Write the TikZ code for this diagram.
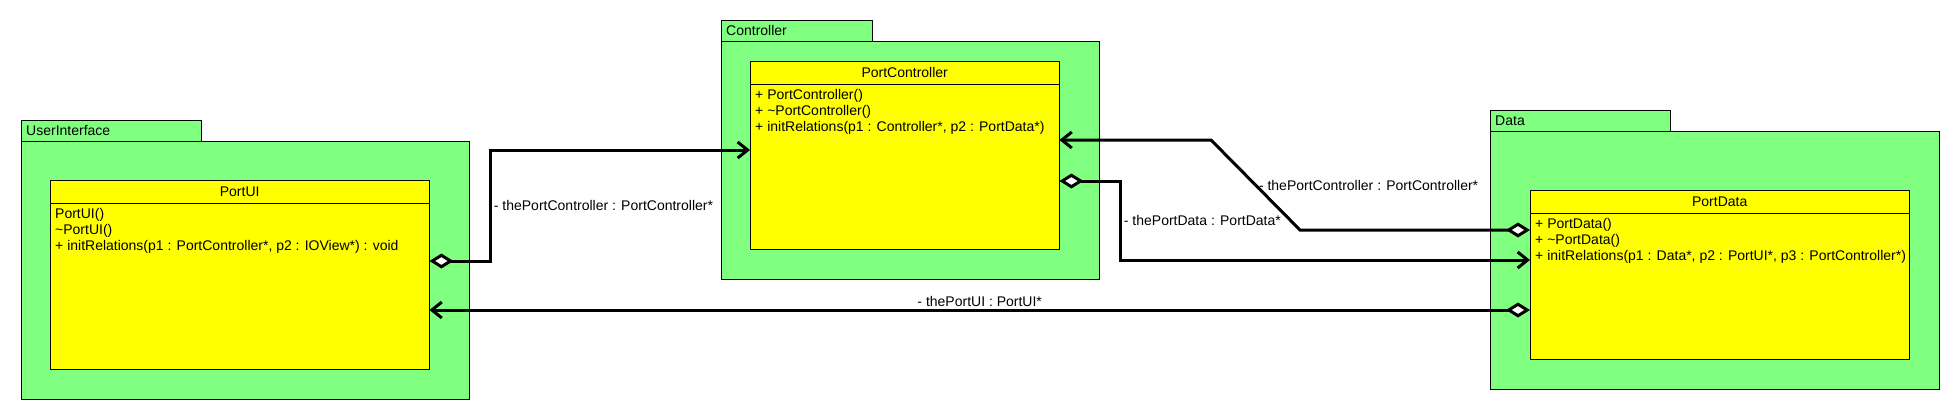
\documentclass[tikz,border=0pt]{standalone}
\usepackage{fontspec}
\setmainfont{Liberation Sans}
\usetikzlibrary{arrows.meta,calc}
\definecolor{pkggreen}{RGB}{128,255,128}
\definecolor{clsyellow}{RGB}{255,255,0}

\begin{document}
\begin{tikzpicture}[x=1pt, y=-1pt, font=\fontsize{14}{16}\selectfont]
    \tikzset{pkgtab/.style={draw, fill=pkggreen, anchor=north west, align=left,
             minimum height=21pt, inner xsep=5pt, inner ysep=0pt},
             pkgbody/.style={draw, fill=pkggreen, anchor=north west},
             clsbox/.style={draw, fill=clsyellow, anchor=north west},
             clshead/.style={draw, anchor=north, minimum height=23pt, inner sep=0pt},
             clsops/.style={anchor=north west, align=left, inner xsep=5pt, inner ysep=5pt},
             agg/.style={line width=3pt, {Diamond[fill=white, length=24pt, width=15pt]}-{Straight Barb[length=10pt, width=16pt]}},
             lbl/.style={inner sep=2pt}}
    \useasboundingbox (0,0) rectangle (1960,420);
    \node[pkgtab, text width=170pt] (uitab) at (21,120) {UserInterface};
    \node[pkgbody, minimum width=448pt, minimum height=258pt] (uipkg) at (21,141) {};
    \node[clsbox, minimum width=379pt, minimum height=189pt] (ui) at (50,180) {};
    \node[clshead, minimum width=379pt] (uihead) at (ui.north) {PortUI};
    \node[clsops] (uiops) at (uihead.south west)
      {PortUI()\\\textasciitilde PortUI()\\+ initRelations(p1 : PortController*, p2 : IOView*) : void};
    \node[pkgtab, text width=141pt] (pctab) at (721,20) {Controller};
    \node[pkgbody, minimum width=378pt, minimum height=238pt] (pcpkg) at (721,41) {};
    \node[clsbox, minimum width=309pt, minimum height=188pt] (pc) at (750,61) {};
    \node[clshead, minimum width=309pt] (pchead) at (pc.north) {PortController};
    \node[clsops] (pcops) at (pchead.south west)
      {+ PortController()\\+ \textasciitilde PortController()\\+ initRelations(p1 : Controller*, p2 : PortData*)};
    \node[pkgtab, text width=170pt] (pdtab) at (1490,110) {Data};
    \node[pkgbody, minimum width=449pt, minimum height=258pt] (pdpkg) at (1490,131) {};
    \node[clsbox, minimum width=379pt, minimum height=169pt] (pd) at (1530,190) {};
    \node[clshead, minimum width=379pt] (pdhead) at (pd.north) {PortData};
    \node[clsops] (pdops) at (pdhead.south west)
      {+ PortData()\\+ \textasciitilde PortData()\\+ initRelations(p1 : Data*, p2 : PortUI*, p3 : PortController*)};
    \draw[agg] ($(ui.north east)+(0,81)$) -- ++(61,0) |- ($(pc.north west)+(0,89)$)
      node[lbl, right, pos=0.25] {- thePortController : PortController*};
    \draw[agg] ($(pd.north west)+(0,40)$) -- ++(-230,0) -- ++(-89,-90)
      node[lbl, right, pos=0.5] {- thePortController : PortController*}
      -- ($(pc.north east)+(0,79)$);
    \draw[agg] ($(pc.north east)+(0,120)$) -- ++(61,0) |- ($(pd.north west)+(0,70)$)
      node[lbl, right, pos=0.25] {- thePortData : PortData*};
    \draw[agg] ($(pd.north west)+(0,120)$) -- ($(ui.north east)+(0,130)$)
      node[lbl, above, midway] {- thePortUI : PortUI*};
\end{tikzpicture}
\end{document}
